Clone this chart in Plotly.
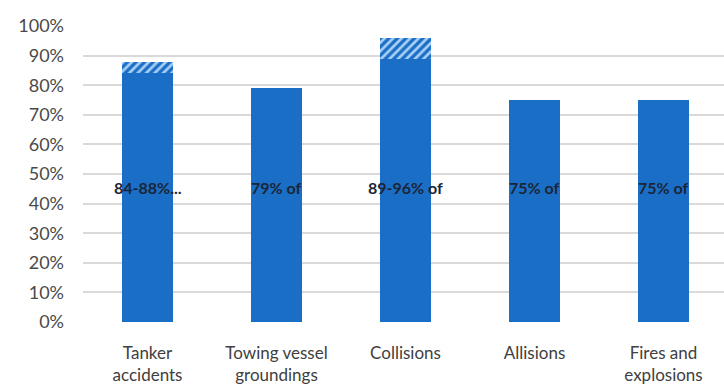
import plotly.graph_objects as go

categories = ["Tanker<br>accidents", "Towing vessel<br>groundings", "Collisions", "Allisions", "Fires and<br>explosions"]
low_share = [84, 79, 89, 75, 75]          # lower bound of each estimate (%)
high_share = [88, 79, 96, 75, 75]         # upper bound of each estimate (%)
range_extra = [h - l for h, l in zip(high_share, low_share)]
bar_labels = ["84-88%...", "79% of", "89-96% of", "75% of", "75% of"]
label_level = 45.5
y_ticks = list(range(0, 101, 10))
y_tick_text = [f"{v}%" for v in y_ticks]

BLUE = "#1b6ec6"

fig = go.Figure()
fig.add_trace(go.Bar(
    x=categories, y=low_share, width=0.395,
    marker=dict(color=BLUE, line=dict(width=0)),
    hoverinfo="skip", showlegend=False,
))
fig.add_trace(go.Bar(
    x=categories, y=range_extra, width=0.395,
    marker=dict(color=BLUE, line=dict(width=0),
                pattern=dict(shape="/", bgcolor=BLUE, fgcolor="#a9d0f5",
                             size=6, solidity=0.45, fillmode="replace")),
    hoverinfo="skip", showlegend=False,
))

for cat, txt in zip(categories, bar_labels):
    fig.add_annotation(x=cat, y=label_level, text=f"<b>{txt}</b>", showarrow=False,
                       font=dict(family="Lato", size=16, color="#1a2638"),
                       xanchor="center", yanchor="middle")

fig.update_layout(
    width=724, height=387,
    margin=dict(l=83, r=0, t=26, b=65),
    barmode="stack",
    paper_bgcolor="white", plot_bgcolor="white",
    font=dict(family="Lato", size=17, color="#4a4a4a"),
    xaxis=dict(range=[-0.5, 4.469], showgrid=False, zeroline=False, showline=False,
               ticks="", ticklabelstandoff=19, tickfont=dict(size=17, color="#404040")),
    yaxis=dict(range=[0, 100], tickvals=y_ticks, ticktext=y_tick_text,
               showgrid=True, gridcolor="#d9d9d9", gridwidth=1.5, zeroline=False,
               showline=False, ticks="", ticklabelstandoff=18,
               tickfont=dict(size=18, color="#4a4a4a")),
)

fig.write_html("out.html")
